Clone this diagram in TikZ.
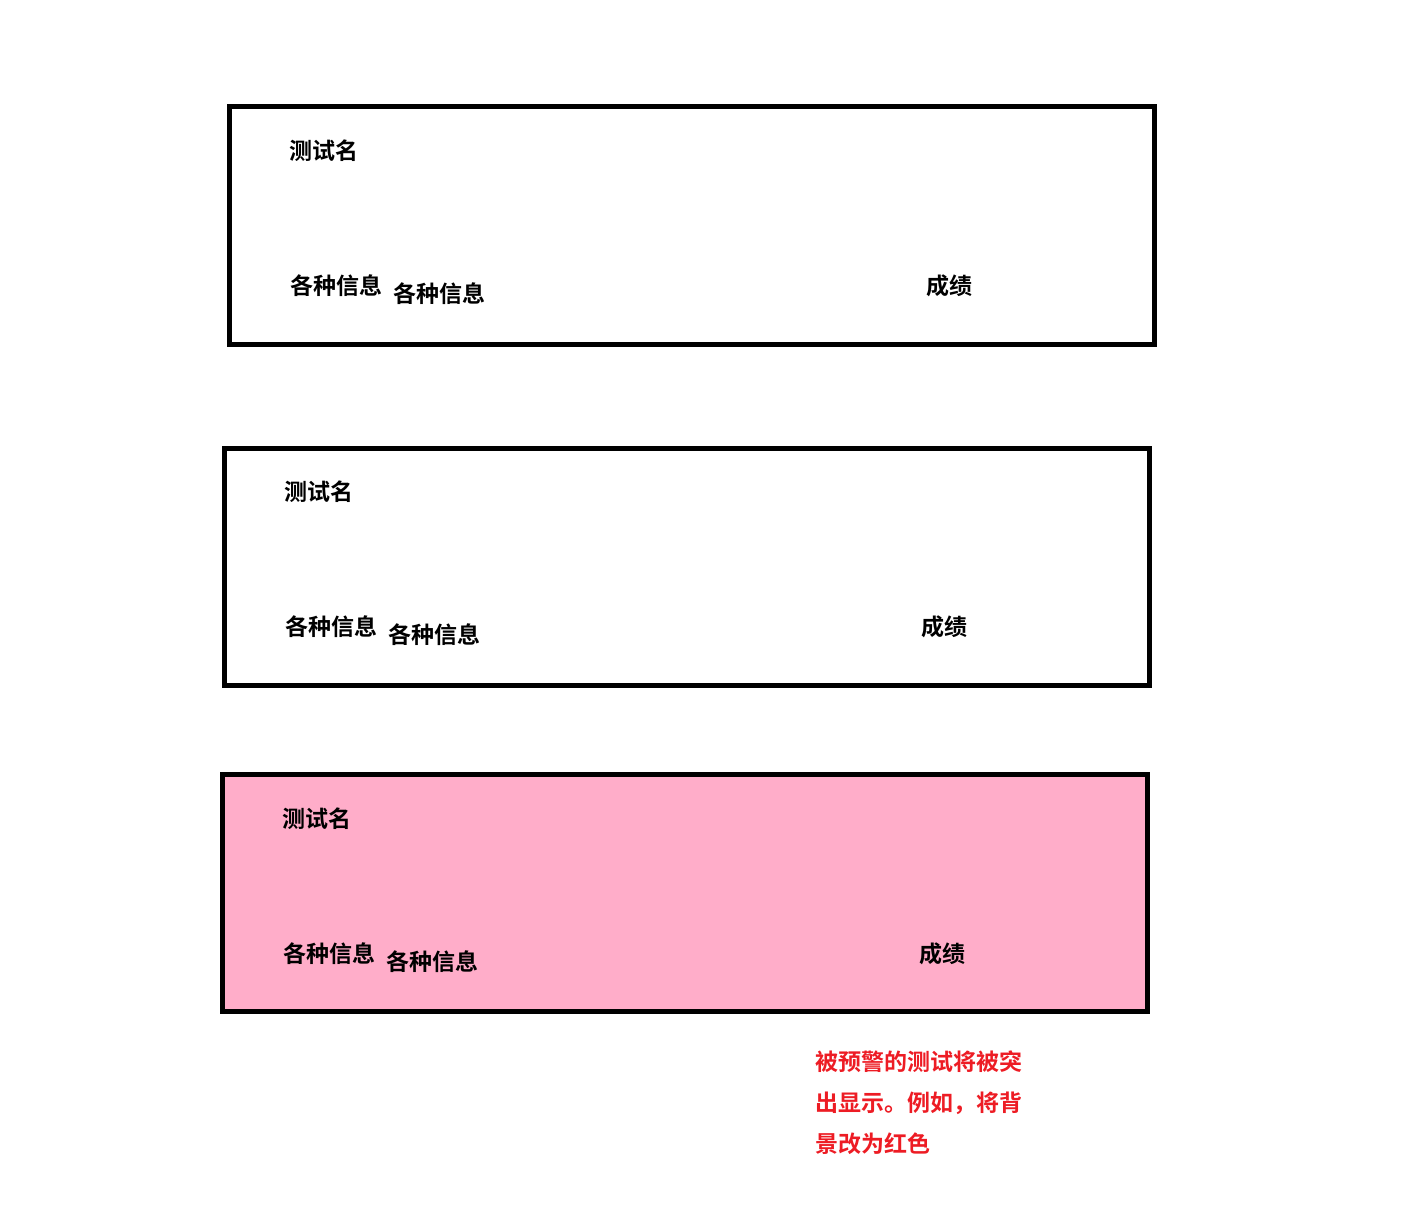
\documentclass[tikz,border=0pt]{standalone}
\usepackage{fontspec}
\newfontfamily\cjk{Noto Sans CJK SC}[BoldFont={Noto Sans CJK SC Bold}]
\definecolor{warnpink}{RGB}{255,173,201}
\definecolor{warnred}{RGB}{237,28,36}
\tikzset{
  card/.style={draw=black, line width=5pt},
  lbl/.style={anchor=base west, inner sep=0pt, font=\cjk\bfseries\fontsize{23}{27}\selectfont},
  note/.style={anchor=north west, inner sep=0pt, align=left, text=warnred, font=\cjk\bfseries\fontsize{23}{41}\selectfont}
}
\begin{document}
\begin{tikzpicture}[x=1pt,y=-1pt]
\useasboundingbox (0,0) rectangle (1405,1227);
% card 1
\draw[card] (229.5,106.5) rectangle (1154,344);
\node[lbl] (n1) at (289,159.5) {测试名};
\node[lbl] (i1a) at (290,294.5) {各种信息};
\node[lbl] (i1b) at (393,302.5) {各种信息};
\node[lbl] (s1) at (926,294.5) {成绩};
% card 2
\draw[card] (224.5,448.5) rectangle (1149.5,685);
\node[lbl] (n2) at (284,500.5) {测试名};
\node[lbl] (i2a) at (285,635.5) {各种信息};
\node[lbl] (i2b) at (388,643.5) {各种信息};
\node[lbl] (s2) at (921,635.5) {成绩};
% card 3 (warned)
\draw[card, fill=warnpink] (222.5,774.5) rectangle (1147.5,1011.5);
\node[lbl] (n3) at (282,827.5) {测试名};
\node[lbl] (i3a) at (283,962.5) {各种信息};
\node[lbl] (i3b) at (386,970.5) {各种信息};
\node[lbl] (s3) at (919,962.5) {成绩};
% note
\node[note] (note) at (815,1051) {被预警的测试将被突\\出显示。例如，将背\\景改为红色};
\end{tikzpicture}
\end{document}
